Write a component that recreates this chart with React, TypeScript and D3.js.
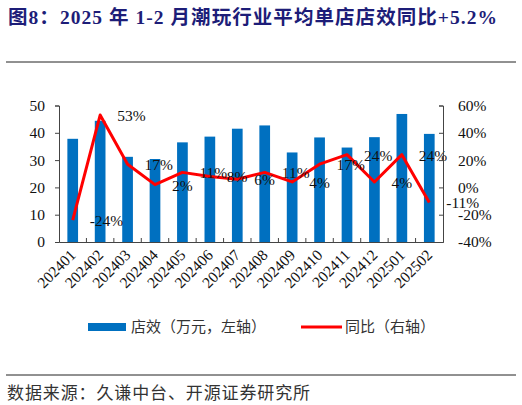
import { useEffect, useRef } from 'react';
import * as d3 from 'd3';

const months = ['202401', '202402', '202403', '202404', '202405', '202406', '202407',
  '202408', '202409', '202410', '202411', '202412', '202501', '202502'];
const storeSales = [37.8, 44.4, 31.2, 30.4, 36.5, 38.6, 41.5, 42.7, 32.8, 38.3, 34.6, 38.4, 46.9, 39.6];
const yoy = [-24, 53, 17, 2, 11, 8, 6, 11, 4, 17, 24, 4, 24, -11];
const leftTicks = [0, 10, 20, 30, 40, 50];
const rightTicks = [-40, -20, 0, 20, 40, 60];

const SERIF = "'Times New Roman','Liberation Serif','Noto Sans CJK SC',serif";
const CJK = "'Noto Sans CJK SC','Liberation Serif',sans-serif";

export default function App() {
  const svgRef = useRef<SVGSVGElement>(null);

  useEffect(() => {
    if (!svgRef.current) return;
    const W = 522, H = 405;
    const margin = { top: 105.5, left: 59, right: 522 - 443, bottom: 405 - 242 };
    const width = W - margin.left - margin.right;
    const height = H - margin.top - margin.bottom;

    const svg = d3.select(svgRef.current).attr('width', W).attr('height', H);
    svg.selectAll('*').remove();

    // Title + rules
    svg.append('text')
      .attr('x', 8).attr('y', 24)
      .attr('font-family', SERIF).attr('font-weight', 'bold').attr('font-size', 19.5)
      .attr('fill', '#1d1d78')
      .attr('textLength', 489).attr('lengthAdjust', 'spacing')
      .text('图8：2025 年 1-2 月潮玩行业平均单店店效同比+5.2%');
    svg.append('line').attr('x1', 6).attr('x2', 516).attr('y1', 62).attr('y2', 62)
      .attr('stroke', '#222').attr('stroke-width', 1);
    svg.append('line').attr('x1', 6).attr('x2', 516).attr('y1', 375).attr('y2', 375)
      .attr('stroke', '#222').attr('stroke-width', 1);
    svg.append('text')
      .attr('x', 7).attr('y', 399)
      .attr('font-family', CJK).attr('font-size', 17).attr('fill', '#333')
      .attr('textLength', 303).attr('lengthAdjust', 'spacing')
      .text('数据来源：久谦中台、开源证券研究所');

    const g = svg.append('g').attr('transform', `translate(${margin.left},${margin.top})`);

    const x = d3.scaleBand().domain(months).range([0, width]).paddingInner(0.61).paddingOuter(0.305);
    const xb = d3.scaleBand().domain(months).range([0, width]);
    const yL = d3.scaleLinear().domain([0, 50]).range([height, 0]);
    const yR = d3.scaleLinear().domain([-40, 60]).range([height, 0]);

    // Bars
    g.selectAll('.bar')
      .data(storeSales)
      .enter().append('rect')
      .attr('x', (_, i) => x(months[i])!)
      .attr('y', d => yL(d))
      .attr('width', x.bandwidth())
      .attr('height', d => height - yL(d))
      .attr('fill', '#0070c0');

    // Line
    const line = d3.line<number>()
      .x((_, i) => xb(months[i])! + xb.bandwidth() / 2)
      .y(d => yR(d));
    g.append('path')
      .datum(yoy)
      .attr('d', line)
      .attr('fill', 'none')
      .attr('stroke', '#ff0000')
      .attr('stroke-width', 3)
      .attr('stroke-linejoin', 'round');

    // Point labels
    g.selectAll('.lbl')
      .data(yoy)
      .enter().append('text')
      .attr('x', (_, i) => xb(months[i])! + xb.bandwidth() / 2 + 17)
      .attr('y', d => yR(d))
      .attr('dy', '0.38em')
      .attr('font-family', SERIF).attr('font-size', 15.5).attr('fill', '#111')
      .text(d => `${d}%`);

    // Axes
    g.append('g')
      .attr('transform', `translate(0,${height})`)
      .call(d3.axisBottom(xb).tickSize(0).tickFormat(() => ''))
      .call(gg => gg.select('.domain').attr('stroke', '#444'));
    g.append('g')
      .attr('transform', `translate(0,${height})`)
      .selectAll('line.xt')
      .data(months.slice(1))
      .enter().append('line')
      .attr('x1', d => xb(d)!).attr('x2', d => xb(d)!)
      .attr('y1', 0).attr('y2', -4)
      .attr('stroke', '#444');
    g.append('g')
      .attr('transform', `translate(0,${height})`)
      .selectAll('text')
      .data(months)
      .enter().append('text')
      .attr('transform', d => `translate(${xb(d)! + xb.bandwidth() / 2 + 4},${14}) rotate(-45)`)
      .attr('text-anchor', 'end')
      .attr('font-family', SERIF).attr('font-size', 15.5).attr('fill', '#111')
      .text(d => d);

    g.append('g')
      .call(d3.axisLeft(yL).tickValues(leftTicks).tickSize(4).tickPadding(10).tickFormat(d => `${d}`))
      .call(gg => gg.select('.domain').attr('stroke', '#444'))
      .call(gg => gg.selectAll('.tick line').attr('stroke', '#444'))
      .call(gg => gg.selectAll('text')
        .attr('font-family', SERIF).attr('font-size', 15.5).attr('fill', '#111'));

    g.append('g')
      .attr('transform', `translate(${width},0)`)
      .call(d3.axisRight(yR).tickValues(rightTicks).tickSize(-4).tickPadding(15).tickFormat(d => `${d}%`))
      .call(gg => gg.select('.domain').attr('stroke', '#444'))
      .call(gg => gg.selectAll('.tick line').attr('stroke', '#444'))
      .call(gg => gg.selectAll('text')
        .attr('font-family', SERIF).attr('font-size', 15.5).attr('fill', '#111'));

    // Legend
    const lg = svg.append('g');
    lg.append('rect').attr('x', 88).attr('y', 323).attr('width', 38).attr('height', 8).attr('fill', '#0070c0');
    lg.append('text').attr('x', 131).attr('y', 327).attr('dy', '0.36em')
      .attr('font-family', CJK).attr('font-size', 15).attr('fill', '#333')
      .text('店效（万元，左轴）');
    lg.append('line').attr('x1', 301).attr('x2', 342).attr('y1', 327).attr('y2', 327)
      .attr('stroke', '#ff0000').attr('stroke-width', 3);
    lg.append('text').attr('x', 345).attr('y', 327).attr('dy', '0.36em')
      .attr('font-family', CJK).attr('font-size', 15).attr('fill', '#333')
      .text('同比（右轴）');
  }, []);

  return (
    <div style={{ position: 'absolute', left: 0, top: 0, width: 522, height: 405, background: '#fff' }}>
      <svg ref={svgRef} style={{ display: 'block' }} />
    </div>
  );
}
